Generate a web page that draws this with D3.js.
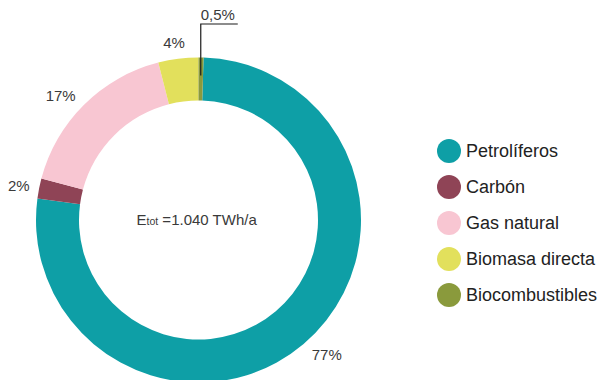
<!DOCTYPE html>
<html>
<head>
<meta charset="utf-8">
<script src="https://cdn.jsdelivr.net/npm/d3@7"></script>
<style>
  html, body { margin: 0; padding: 0; background: #fff; }
  svg { display: block; font-family: "Liberation Sans", Arial, Helvetica, sans-serif; }
</style>
</head>
<body>
<svg id="chart" width="600" height="380"></svg>
<script>
// Energy sources (share of total final energy, %)
const categories = ["Petrolíferos", "Carbón", "Gas natural", "Biomasa directa", "Biocombustibles"];
const values = [77, 2, 17, 4, 0.5];
const valueLabels = ["77%", "2%", "17%", "4%", "0,5%"];
const colors = ["#0e9fa6", "#8f4456", "#f8c6d2", "#e2e05c", "#8a9a3c"];
const totalLabel = { main: "E", sub: "tot", rest: " =1.040 TWh/a" };

const svg = d3.select("#chart");
const cx = 198.5, cy = 220, rOuter = 162.5, rInner = 119.5;

// Rotate so the smallest slice ends exactly at 12 o'clock
const total = d3.sum(values);
const offset = 2 * Math.PI * values[values.length - 1] / total;

const pie = d3.pie().sort(null).value(d => d)
  .startAngle(offset).endAngle(offset + 2 * Math.PI);
const arcs = pie(values);
const arc = d3.arc().innerRadius(rInner).outerRadius(rOuter);

const g = svg.append("g").attr("transform", `translate(${cx},${cy})`);
g.selectAll("path.slice")
  .data(arcs)
  .join("path")
  .attr("class", "slice")
  .attr("d", arc)
  .attr("fill", (d, i) => colors[i]);

const labelStyle = sel => sel
  .attr("font-size", 15)
  .attr("fill", "#3a3a3a");

// Percentage labels outside the ring: position along each slice and radius
const labelPlace = [
  { t: 0.488, r: 186 },
  { t: 0.47, r: 183 },
  { t: 0.45, r: 186 },
  { t: 0.45, r: 179 }
];
labelPlace.forEach((p, i) => {
  const a = arcs[i];
  const ang = a.startAngle + (a.endAngle - a.startAngle) * p.t;
  g.append("text").call(labelStyle)
    .attr("x", Math.sin(ang) * p.r).attr("y", -Math.cos(ang) * p.r)
    .attr("text-anchor", "middle").attr("dominant-baseline", "central")
    .text(valueLabels[i]);
});

// 0,5% with a leader line from the thin slice
{
  const a = arcs[4];
  const ang = (a.startAngle + a.endAngle) / 2 - 2 * Math.PI;
  const x0 = Math.sin(ang) * (rOuter - 18);
  const yTop = -cy + 24;
  const yBottom = -Math.cos(ang) * (rOuter - 18);
  g.append("path")
    .attr("d", `M${x0},${yBottom}V${yTop}H${x0 + 37}`)
    .attr("fill", "none").attr("stroke", "#1a1a1a").attr("stroke-width", 1.2);
  g.append("text").call(labelStyle)
    .attr("x", x0).attr("y", yTop - 4)
    .text(valueLabels[4]);
}

// Total energy in the centre
const t = g.append("text")
  .attr("x", -62).attr("y", 5)
  .attr("fill", "#3a3a3a").attr("font-size", 15);
t.append("tspan").text(totalLabel.main);
t.append("tspan").attr("font-size", 10.5).text(totalLabel.sub);
t.append("tspan").text(totalLabel.rest);

// Legend
const legendY = d3.scalePoint().domain(categories).range([151, 295]);
const legend = svg.append("g");
const item = legend.selectAll("g.item")
  .data(categories)
  .join("g")
  .attr("class", "item")
  .attr("transform", d => `translate(449,${legendY(d)})`);
item.append("circle").attr("r", 12).attr("fill", (d, i) => colors[i]);
item.append("text")
  .attr("x", 17).attr("y", 0)
  .attr("dominant-baseline", "central")
  .attr("font-size", 18).attr("fill", "#222")
  .text(d => d);
</script>
</body>
</html>
